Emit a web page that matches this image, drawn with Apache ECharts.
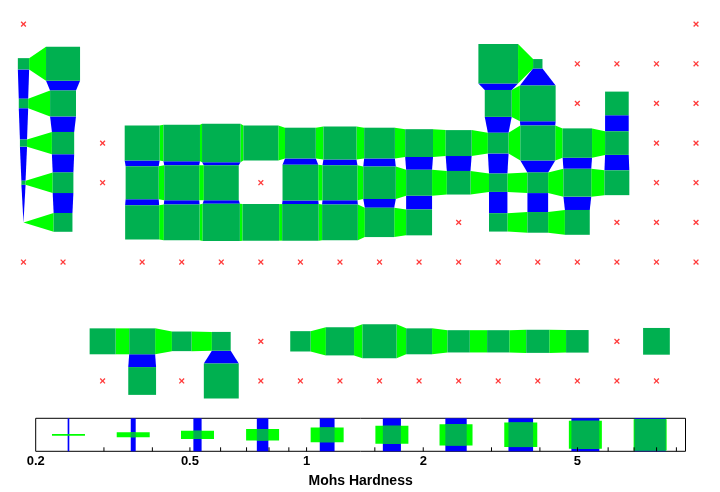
<!DOCTYPE html>
<html>
<head>
<meta charset="utf-8">
<title>Mohs Hardness</title>
<script src="https://cdn.jsdelivr.net/npm/echarts@6.0.0/dist/echarts.min.js"></script>
<style>
  html, body { margin: 0; padding: 0; background: #fff; }
  #chart { width: 720px; height: 492px; }
</style>
</head>
<body>
<div id="chart"></div>
<script>
// hardness of each cell, 18 groups per row
// x = element without a value (drawn as a cross), _ = no element in that cell
var _ = undefined, x = null;

var period1 = [x, _, _, _, _, _, _, _, _, _, _, _, _, _, _, _, _, x];
var period2 = [0.6, 5.5, _, _, _, _, _, _, _, _, _, _, 9.5, 0.5, x, x, x, x];
var period3 = [0.5, 2.5, _, _, _, _, _, _, _, _, _, _, 2.75, 6.5, x, 2, x, x];
var period4 = [0.4, 1.75, x, 6, 7, 8.5, 6, 4, 5, 4, 3, 2.5, 1.5, 6, 3.5, 2, x, x];
var period5 = [0.3, 1.5, x, 5, 6, 6, x, 6.5, 6, 4.75, 2.5, 2, 1.2, 1.5, 3, 2.25, x, x];
var period6 = [0.2, 1.25, _, 5.5, 6.5, 7.5, 7, 7, 6.5, 3.5, 2.5, x, 1.2, 1.5, 2.25, x, x, x];
var period7 = [x, x, _, x, x, x, x, x, x, x, x, x, x, x, x, x, x, x];
var lanthanides = [_, _, 2.5, 2.5, 1.35, 1.25, x, 1.45, 3.1, 5.5, 2.5, 1.75, 1.75, 1.9, 1.8, x, 2.7, _];
var actinides = [_, _, x, 3, x, 6, x, x, x, x, x, x, x, x, x, x, x, _];

// row 8 stays empty, it separates the f-block
var tableRows = [period1, period2, period3, period4, period5, period6, period7, [], lanthanides, actinides];

// key at the bottom
var legendValues = [0.243, 0.357, 0.523, 0.77, 1.13, 1.66, 2.43, 3.57, 5.24, 7.7];
var tickValues = [0.3, 0.4, 0.5, 0.6, 0.7, 0.8, 0.9, 1, 1.5, 2, 3, 4, 5, 6, 7, 8, 9];
var labelValues = [0.2, 0.5, 1, 2, 5];

var hMin = 0.2, hMax = 9.5;
var SQUARE = '#00b050', HLINK = '#00ff00', VLINK = '#0000ff', CROSS = '#ff3b3b';
var FONT = '"Liberation Sans", Arial, Helvetica, sans-serif';

function has(v) { return typeof v === 'number'; }
// square side as a share of one cell, log scaled between hMin and hMax
function frac(h) { return Math.log(h / hMin) / Math.log(hMax / hMin); }

var cells = [], crosses = [], hLinks = [], vLinks = [];
tableRows.forEach(function (row, r) {
  row.forEach(function (h, c) {
    var col = c + 1, rowNo = r + 1;
    if (h === null) crosses.push([col, rowNo]);
    if (!has(h)) return;
    cells.push([col, rowNo, h]);
    if (has(row[c + 1])) hLinks.push([col, rowNo, h, row[c + 1]]);
    var below = tableRows[r + 1];
    if (below && has(below[c])) vLinks.push([col, rowNo, h, below[c]]);
  });
});

function cellPx(api) { return api.size([1, 1])[1]; }

function hLinkItem(params, api) {
  var a = api.coord([api.value(0), api.value(1)]);
  var b = api.coord([api.value(0) + 1, api.value(1)]);
  var s = cellPx(api);
  var ha = s * frac(api.value(2)) / 2, hb = s * frac(api.value(3)) / 2;
  return {
    type: 'polygon',
    shape: { points: [[a[0] + ha, a[1] - ha], [b[0] - hb, b[1] - hb], [b[0] - hb, b[1] + hb], [a[0] + ha, a[1] + ha]] },
    style: { fill: HLINK }
  };
}

function vLinkItem(params, api) {
  var a = api.coord([api.value(0), api.value(1)]);
  var b = api.coord([api.value(0), api.value(1) + 1]);
  var s = cellPx(api);
  var ha = s * frac(api.value(2)) / 2, hb = s * frac(api.value(3)) / 2;
  return {
    type: 'polygon',
    shape: { points: [[a[0] - ha, a[1] + ha], [a[0] + ha, a[1] + ha], [b[0] + hb, b[1] - hb], [b[0] - hb, b[1] - hb]] },
    style: { fill: VLINK }
  };
}

function squareItem(params, api) {
  var p = api.coord([api.value(0), api.value(1)]);
  var hs = cellPx(api) * frac(api.value(2)) / 2;
  return {
    type: 'rect',
    shape: { x: p[0] - hs, y: p[1] - hs, width: hs * 2, height: hs * 2 },
    style: { fill: SQUARE }
  };
}

function crossItem(params, api) {
  var p = api.coord([api.value(0), api.value(1)]);
  var d = 2.4;
  var st = { stroke: CROSS, lineWidth: 1.3 };
  return {
    type: 'group',
    children: [
      { type: 'line', shape: { x1: p[0] - d, y1: p[1] - d, x2: p[0] + d, y2: p[1] + d }, style: st },
      { type: 'line', shape: { x1: p[0] - d, y1: p[1] + d, x2: p[0] + d, y2: p[1] - d }, style: st }
    ]
  };
}

function legendItem(params, api) {
  var v = api.value(0);
  var top = api.coord([v, 1]), bottom = api.coord([v, 0]);
  var H = bottom[1] - top[1];
  var cx = top[0], cy = (top[1] + bottom[1]) / 2;
  var s = H * frac(v);
  return {
    type: 'group',
    children: [
      { type: 'rect', shape: { x: cx - s / 2, y: top[1], width: s, height: H }, style: { fill: VLINK } },
      { type: 'rect', shape: { x: cx - H / 2, y: cy - s / 2, width: H, height: s }, style: { fill: HLINK } },
      { type: 'rect', shape: { x: cx - s / 2, y: cy - s / 2, width: s, height: s }, style: { fill: SQUARE } }
    ]
  };
}

function tickItem(params, api) {
  var p = api.coord([api.value(0), 0]);
  return {
    type: 'line',
    shape: { x1: p[0], y1: p[1], x2: p[0], y2: p[1] - 4 },
    style: { stroke: '#000', lineWidth: 1 }
  };
}

function labelItem(params, api) {
  var p = api.coord([api.value(0), 0]);
  return {
    type: 'text',
    style: {
      text: String(api.value(0)), x: p[0], y: p[1] + 10.5,
      align: 'center', verticalAlign: 'middle',
      font: 'bold 13px ' + FONT, fill: '#000'
    }
  };
}

var chart = echarts.init(document.getElementById('chart'), null, { renderer: 'canvas' });

chart.setOption({
  animation: false,
  backgroundColor: '#fff',
  grid: [
    { left: 3.7, right: 4.2, top: 4.3, bottom: 91.2, outerBoundsMode: 'none' },
    { left: 35.7, right: 34.5, top: 418.3, height: 33, outerBoundsMode: 'none',
      show: true, borderColor: '#000', borderWidth: 1, backgroundColor: 'transparent' }
  ],
  xAxis: [
    { type: 'value', gridIndex: 0, min: 0.5, max: 18.5, show: false },
    {
      type: 'log', logBase: 10, gridIndex: 1, min: hMin, max: hMax,
      axisLine: { show: false }, axisTick: { show: false },
      axisLabel: { show: false }, splitLine: { show: false },
      name: 'Mohs Hardness', nameLocation: 'middle', nameGap: 23,
      nameTextStyle: { fontFamily: FONT, fontWeight: 'bold', fontSize: 14, color: '#000' }
    }
  ],
  yAxis: [
    { type: 'value', gridIndex: 0, min: 0.5, max: 10.5, inverse: true, show: false },
    { type: 'value', gridIndex: 1, min: 0, max: 1, show: false }
  ],
  series: [
    { type: 'custom', xAxisIndex: 0, yAxisIndex: 0, renderItem: hLinkItem, data: hLinks, encode: { x: 0, y: 1 }, z: 1, silent: true },
    { type: 'custom', xAxisIndex: 0, yAxisIndex: 0, renderItem: vLinkItem, data: vLinks, encode: { x: 0, y: 1 }, z: 2, silent: true },
    { type: 'custom', xAxisIndex: 0, yAxisIndex: 0, renderItem: squareItem, data: cells, encode: { x: 0, y: 1 }, z: 3, silent: true },
    { type: 'custom', xAxisIndex: 0, yAxisIndex: 0, renderItem: crossItem, data: crosses, encode: { x: 0, y: 1 }, z: 4, silent: true },
    { type: 'custom', xAxisIndex: 1, yAxisIndex: 1, renderItem: legendItem,
      data: legendValues.map(function (v) { return [v, 0.5]; }), encode: { x: 0, y: 1 }, z: 2, silent: true },
    { type: 'custom', xAxisIndex: 1, yAxisIndex: 1, renderItem: tickItem,
      data: tickValues.map(function (v) { return [v, 0]; }), encode: { x: 0, y: 1 }, z: 3, silent: true },
    { type: 'custom', xAxisIndex: 1, yAxisIndex: 1, renderItem: labelItem, clip: false,
      data: labelValues.map(function (v) { return [v, 0]; }), encode: { x: 0, y: 1 }, z: 3, silent: true }
  ]
});
</script>
</body>
</html>
